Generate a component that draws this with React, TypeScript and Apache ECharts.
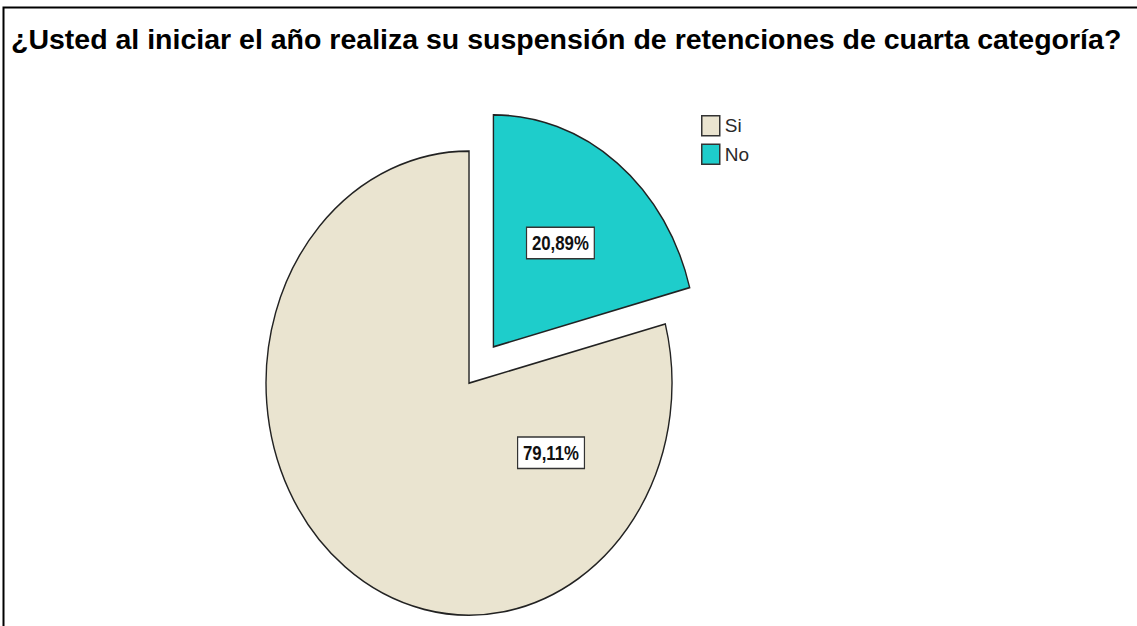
import React, { useEffect, useRef } from "react";
import * as echarts from "echarts";

const titleText =
  "¿Usted al iniciar el año realiza su suspensión de retenciones de cuarta categoría?";
const categories = ["Si", "No"];
const percentages = [79.11, 20.89];
const labels = ["79,11%", "20,89%"];
const colors = ["#EAE4D0", "#1ECDCB"];
const exploded = [0, 40];
// label offsets relative to slice apex, in units of the radii
const labelOffsets = [
  [0.404, 0.3],
  [0.33, -0.448],
];

const NARROW = "'Liberation Sans Narrow', 'Arial Narrow', 'Liberation Sans', sans-serif";

export default function App() {
  const ref = useRef<HTMLDivElement>(null);
  useEffect(() => {
    if (!ref.current) return;
    const chart = echarts.init(ref.current, null, { renderer: "svg" });
    const total = percentages.reduce((a, b) => a + b, 0);
    const cumul: number[] = [];
    let acc = 0;
    percentages.forEach((v) => {
      cumul.push(acc);
      acc += v;
    });

    const series = categories.map((name, i) => ({
      type: "custom",
      name,
      coordinateSystem: "none",
      data: [[percentages[i]]],
      itemStyle: { color: colors[i] },
      renderItem: (params: any, api: any) => {
        const W = api.getWidth();
        const H = api.getHeight();
        const cx = W * 0.4125;
        const cy = H * 0.612;
        const rx = 203;
        const ry = 232;
        const sy = ry / rx;
        const v = api.value(0);
        const f0 = cumul[i] / total;
        const f1 = (cumul[i] + v) / total;
        const thS = -Math.PI / 2 - 2 * Math.PI * f0;
        const thE = -Math.PI / 2 - 2 * Math.PI * f1;
        const mid = (thS + thE) / 2;
        const dx = exploded[i] * Math.cos(mid);
        const dy = exploded[i] * Math.sin(mid) * sy;
        const ax = cx + dx;
        const ay = cy + dy;
        return {
          type: "group",
          children: [
            {
              type: "sector",
              x: ax,
              y: ay,
              scaleX: 1,
              scaleY: sy,
              shape: {
                cx: 0,
                cy: 0,
                r0: 0,
                r: rx,
                startAngle: thE,
                endAngle: thS,
                clockwise: true,
              },
              style: {
                fill: colors[i],
                stroke: "#222",
                lineWidth: 1.4,
                strokeNoScale: true,
              },
            },
            {
              type: "text",
              x: ax + labelOffsets[i][0] * rx,
              y: ay + labelOffsets[i][1] * ry,
              scaleX: 0.8,
              scaleY: 1,
              style: {
                text: labels[i],
                fill: "#111",
                font: `bold 21px ${NARROW}`,
                align: "center",
                verticalAlign: "middle",
                backgroundColor: "#ffffff",
                borderColor: "#333",
                borderWidth: 1.5,
                padding: [5, 6, 4, 6],
              },
            },
          ],
        };
      },
    }));

    chart.setOption({
      animation: false,
      backgroundColor: "#ffffff",
      title: {
        text: titleText,
        left: 11,
        top: 24,
        padding: 0,
        textStyle: {
          fontFamily: "'Liberation Sans', Arial, sans-serif",
          fontWeight: "bold",
          fontSize: 28.5,
          color: "#000",
        },
      },
      legend: {
        orient: "vertical",
        left: 701,
        top: 115,
        padding: 0,
        itemWidth: 18,
        itemHeight: 20,
        itemGap: 7,
        icon: "rect",
        data: categories.map((n, i) => ({
          name: n,
          itemStyle: { color: colors[i], borderColor: "#333", borderWidth: 1.5 },
        })),
        textStyle: { fontFamily: NARROW, fontSize: 19, color: "#2a2a2a" },
      },
      graphic: [
        {
          type: "polyline",
          shape: {
            points: [
              [3.5, 626],
              [3.5, 7.5],
              [1137, 7.5],
            ],
          },
          style: { stroke: "#000", lineWidth: 2, fill: null },
          silent: true,
        },
      ],
      series,
    });
    return () => chart.dispose();
  }, []);
  return (
    <div
      ref={ref}
      style={{ position: "fixed", left: 0, top: 0, width: 1137, height: 626 }}
    />
  );
}
